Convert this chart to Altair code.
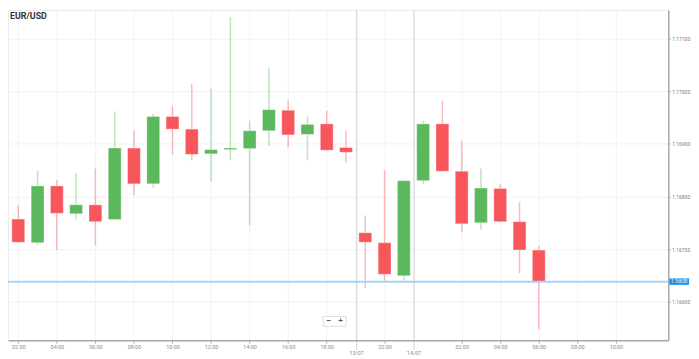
import altair as alt
import pandas as pd

# ---- data (hourly EUR/USD candles) ----
slots = list(range(28))
opens = [1.16757, 1.16712, 1.16820, 1.16767, 1.16784, 1.16756, 1.16892, 1.16824, 1.16952, 1.16928,
         1.16881, 1.16889, 1.16891, 1.16925, 1.16964, 1.16918, 1.16938, 1.16893, 1.16731, 1.16712,
         1.16649, 1.16830, 1.16938, 1.16848, 1.16750, 1.16815, 1.16752, 1.16698]
closes = [1.16713, 1.16820, 1.16768, 1.16784, 1.16752, 1.16892, 1.16824, 1.16952, 1.16928, 1.16880,
          1.16889, 1.16892, 1.16925, 1.16965, 1.16917, 1.16937, 1.16888, 1.16884, 1.16713, 1.16652,
          1.16830, 1.16938, 1.16848, 1.16748, 1.16816, 1.16752, 1.16698, 1.16638]
highs = [1.16784, 1.16849, 1.16831, 1.16844, 1.16853, 1.16962, 1.16925, 1.16957, 1.16972, 1.17014,
         1.17005, 1.17141, 1.16944, 1.17044, 1.16983, 1.16952, 1.16963, 1.16925, 1.16764, 1.16850,
         1.16831, 1.16944, 1.16982, 1.16906, 1.16853, 1.16823, 1.16789, 1.16706]
lows = [1.16712, 1.16708, 1.16698, 1.16756, 1.16707, 1.16756, 1.16802, 1.16817, 1.16880, 1.16869,
        1.16828, 1.16869, 1.16745, 1.16896, 1.16894, 1.16869, 1.16887, 1.16863, 1.16626, 1.16637,
        1.16640, 1.16823, 1.16846, 1.16732, 1.16737, 1.16751, 1.16654, 1.16548]

tick_slots = [0, 2, 4, 6, 8, 10, 12, 14, 16, 19, 23, 25, 27, 29, 31]
tick_labels = ["02:00", "04:00", "06:00", "08:00", "10:00", "12:00", "14:00", "16:00", "18:00",
               "22:00", "02:00", "04:00", "06:00", "08:00", "10:00"]
date_slots = [17.55, 20.53]
date_labels = ["13/07", "14/07"]
y_ticks = [1.166, 1.167, 1.168, 1.169, 1.170, 1.171]
last_price = 1.16638
title_text = "EUR/USD"

GREEN = "#5cb85c"
RED = "#f7565a"
BLUE = "#1e90e8"

W, H = 668, 334

df = pd.DataFrame({"slot": slots, "open": opens, "close": closes, "high": highs, "low": lows})
df["dir"] = ["up" if c >= o else "down" for o, c in zip(opens, closes)]

label_map = "{" + ",".join(f"'{s}':'{l}'" for s, l in zip(tick_slots, tick_labels)) + "}"

xscale = alt.Scale(domain=[-0.278, 33.46], nice=False, zero=False)
yscale = alt.Scale(domain=[1.165267, 1.171545], nice=False, zero=False)

x_axis = alt.Axis(values=tick_slots, labelExpr=f"{label_map}[''+datum.value]", title=None,
                  tickSize=3, labelPadding=1, grid=True, gridColor="#f2f2f2",
                  domainColor="#a8a8a8", domainWidth=1.5, tickColor="#a8a8a8",
                  labelColor="#8a8a8a", labelFontSize=5.5, labelFont="Roboto")
y_axis = alt.Axis(values=y_ticks, format=".5f", orient="right", title=None,
                  tickSize=2, labelPadding=1.5, grid=True, gridColor="#f2f2f2",
                  domainColor="#a8a8a8", domainWidth=1.5, tickColor="#a8a8a8",
                  labelColor="#777777", labelFontSize=5, labelFont="Roboto")

x_enc = alt.X("slot:Q", scale=xscale, axis=x_axis)
color_enc = alt.Color("dir:N", scale=alt.Scale(domain=["up", "down"], range=[GREEN, RED]), legend=None)

base = alt.Chart(df)

wicks = base.mark_rule(strokeWidth=1.5, strokeOpacity=0.4).encode(
    x=x_enc,
    y=alt.Y("low:Q", scale=yscale, axis=y_axis),
    y2="high:Q",
    color=color_enc,
)

bodies = base.mark_bar(size=13, stroke="white", strokeOpacity=0.35, strokeWidth=1).encode(
    x=x_enc,
    y=alt.Y("open:Q", scale=yscale, axis=y_axis),
    y2="close:Q",
    color=color_enc,
)

dates_df = pd.DataFrame({"slot": date_slots, "label": date_labels})
sep = alt.Chart(dates_df).mark_rule(color="#dcdcdc", strokeWidth=1.5).encode(x=x_enc)
date_ticks = alt.Chart(dates_df).mark_rule(color="#a8a8a8", strokeDash=[1, 1]).encode(
    x=x_enc, y=alt.value(H), y2=alt.value(H + 9))
date_text = alt.Chart(dates_df).mark_text(fontSize=5.5, font="Roboto", color="#8a8a8a",
                                          baseline="middle").encode(
    x=x_enc, y=alt.value(347), text="label:N")

price_df = pd.DataFrame({"price": [last_price], "label": [f"{last_price:.5f}"]})
price_line = alt.Chart(price_df).mark_rule(color="#a9d3f5", strokeWidth=2).encode(
    y=alt.Y("price:Q", scale=yscale, axis=y_axis))
price_box = alt.Chart(price_df).mark_rule(color=BLUE, strokeWidth=6.5).encode(
    y=alt.Y("price:Q", scale=yscale, axis=y_axis), x=alt.value(669), x2=alt.value(689))
price_text = alt.Chart(price_df).mark_text(color="white", fontSize=4.5, font="Roboto",
                                           baseline="middle").encode(
    y=alt.Y("price:Q", scale=yscale, axis=y_axis), x=alt.value(679), text="label:N")

title_df = pd.DataFrame({"t": [title_text]})
title = alt.Chart(title_df).mark_text(fontSize=9, fontWeight="bold", font="Roboto", color="#333333",
                                      align="left", baseline="middle").encode(
    x=alt.value(2), y=alt.value(6), text="t:N")

btn_df = pd.DataFrame({"sym": ["\u2212", "+"]})
buttons = alt.Chart(btn_df.iloc[[0]]).mark_rect(fill="white", stroke="#dddddd", strokeWidth=1).encode(
    x=alt.value(319), x2=alt.value(342), y=alt.value(310), y2=alt.value(320))
btn_minus = alt.Chart(btn_df.iloc[[0]]).mark_text(fontSize=8, fontWeight="bold", color="#555",
                                                  baseline="middle").encode(
    x=alt.value(324.5), y=alt.value(315), text="sym:N")
btn_plus = alt.Chart(btn_df.iloc[[1]]).mark_text(fontSize=8, fontWeight="bold", color="#555",
                                                 baseline="middle").encode(
    x=alt.value(336.5), y=alt.value(315), text="sym:N")

chart = alt.layer(
    sep, wicks, bodies, price_line, date_ticks, date_text, price_box, price_text, title,
    buttons, btn_minus, btn_plus
).properties(
    width=W, height=H,
    padding={"left": 0, "top": 0, "right": 23, "bottom": 17},
    autosize=alt.AutoSizeParams(type="none"),
).configure_view(stroke="#ececec")

chart.save("out.html", embed_options={"renderer": "svg", "actions": False})
